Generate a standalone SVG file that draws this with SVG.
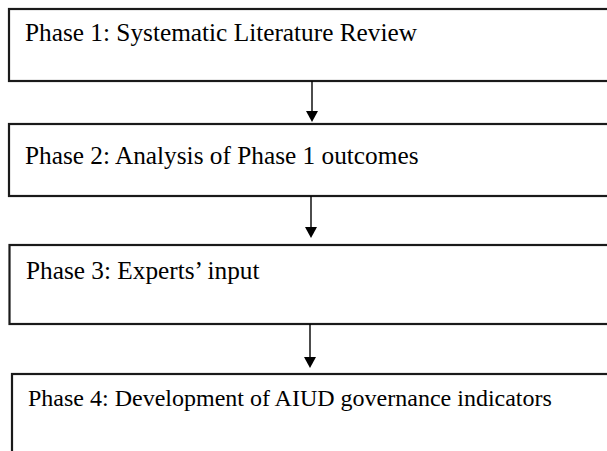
<svg xmlns="http://www.w3.org/2000/svg" width="607" height="451" viewBox="0 0 607 451">
  <style>
    .box { fill: #ffffff; stroke: #1a1a1a; stroke-width: 2.2; }
    .lbl { font-family: "Liberation Serif", "Times New Roman", serif; font-size: 25.3px; fill: #000000; }
    .lbl4 { font-size: 24px; }
    .conn { stroke: #000000; stroke-width: 1.4; fill: none; }
    .head { fill: #000000; }
  </style>
  <rect width="607" height="451" fill="#ffffff"/>
  <g id="phase1">
    <rect class="box" x="9" y="9" width="620" height="72"/>
    <text class="lbl" x="25" y="41">Phase 1: Systematic Literature Review</text>
  </g>
  <g id="phase2">
    <rect class="box" x="9" y="124" width="620" height="72"/>
    <text class="lbl" x="25" y="164">Phase 2: Analysis of Phase 1 outcomes</text>
  </g>
  <g id="phase3">
    <rect class="box" x="9.5" y="245" width="620" height="79"/>
    <text class="lbl" x="26" y="279">Phase 3: Experts’ input</text>
  </g>
  <g id="phase4">
    <rect class="box" x="12" y="374" width="620" height="90"/>
    <text class="lbl lbl4" x="28" y="406">Phase 4: Development of AIUD governance indicators</text>
  </g>
  <g id="connectors">
    <line class="conn" x1="312" y1="81" x2="312" y2="112"/>
    <path class="head" d="M306,111 L318,111 L312,122 Z"/>
    <line class="conn" x1="311" y1="196" x2="311" y2="228"/>
    <path class="head" d="M305,227 L317,227 L311,238 Z"/>
    <line class="conn" x1="310" y1="324" x2="310" y2="358"/>
    <path class="head" d="M304,357 L316,357 L310,368 Z"/>
  </g>
</svg>
